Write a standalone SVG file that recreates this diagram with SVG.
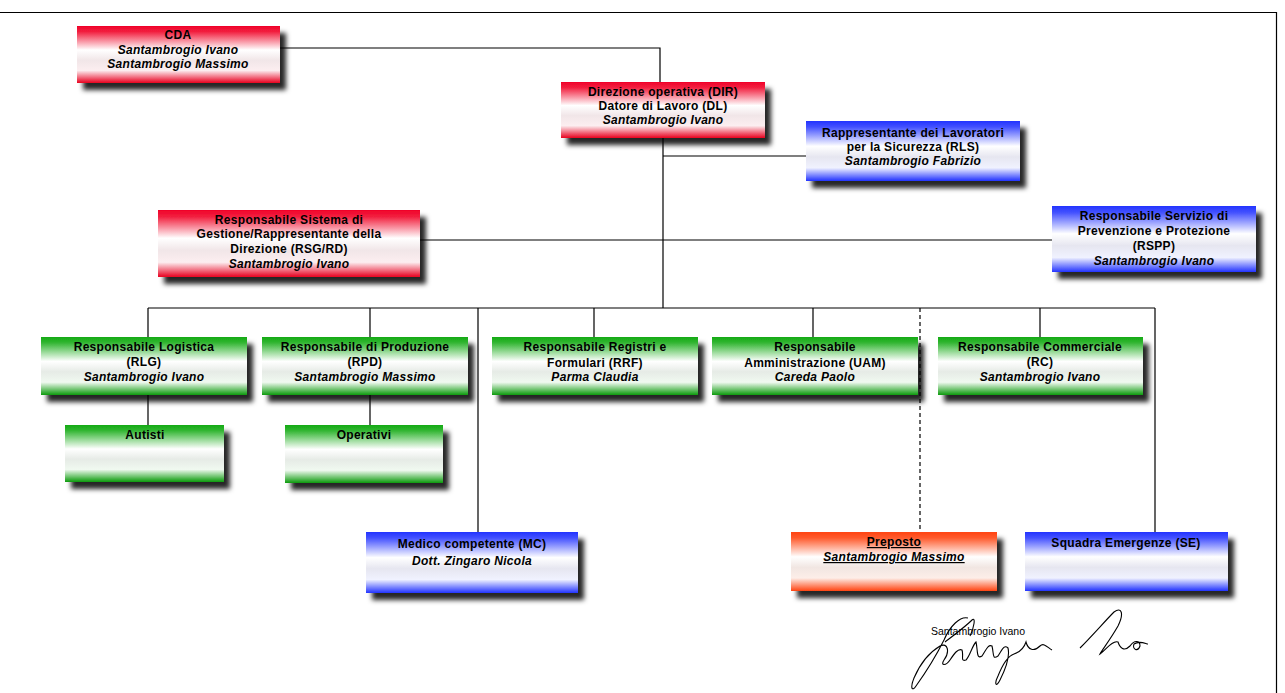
<svg xmlns="http://www.w3.org/2000/svg" width="1285" height="693" viewBox="0 0 1285 693">
<style>
.t{font-family:"Liberation Sans",Arial,sans-serif;font-size:12px;font-weight:bold;letter-spacing:0.3px;text-anchor:middle;fill:#000}
.i{font-style:italic}
.u{text-decoration:underline}
.c{stroke:#000;stroke-width:1.2;fill:none}
.d{stroke-dasharray:4,3}
.box{filter:url(#sh)}
</style>
<defs>
<filter id="sh" x="-10%" y="-20%" width="130%" height="160%">
<feDropShadow dx="6" dy="7" stdDeviation="2.6" flood-color="#000" flood-opacity="0.85"/>
</filter>
<linearGradient id="gR" x1="0" y1="0" x2="0" y2="1">
<stop offset="0" stop-color="#f0002a"/><stop offset="0.1" stop-color="#f2203f"/><stop offset="0.42" stop-color="#fff"/><stop offset="0.6" stop-color="#f1e6e8"/><stop offset="0.78" stop-color="#fceef0"/><stop offset="1" stop-color="#e8001f"/>
</linearGradient>
<linearGradient id="gB" x1="0" y1="0" x2="0" y2="1">
<stop offset="0" stop-color="#2233ff"/><stop offset="0.1" stop-color="#4452ff"/><stop offset="0.42" stop-color="#fff"/><stop offset="0.6" stop-color="#e6e6f0"/><stop offset="0.78" stop-color="#f0f2ff"/><stop offset="1" stop-color="#2233ff"/>
</linearGradient>
<linearGradient id="gG" x1="0" y1="0" x2="0" y2="1">
<stop offset="0" stop-color="#11aa11"/><stop offset="0.1" stop-color="#33b633"/><stop offset="0.42" stop-color="#fff"/><stop offset="0.6" stop-color="#e6ebe6"/><stop offset="0.78" stop-color="#f0f9f0"/><stop offset="1" stop-color="#0a9a0a"/>
</linearGradient>
<linearGradient id="gO" x1="0" y1="0" x2="0" y2="1">
<stop offset="0" stop-color="#ff4411"/><stop offset="0.1" stop-color="#ff5a2c"/><stop offset="0.42" stop-color="#fff"/><stop offset="0.6" stop-color="#f1e6e2"/><stop offset="0.78" stop-color="#fdeee8"/><stop offset="1" stop-color="#ff4411"/>
</linearGradient>
</defs>
<rect width="1285" height="693" fill="#fff"/>
<g id="page-border" class="c">
<path d="M0 12.5H1276.5V693"/>
</g>
<g id="connectors">
<path class="c" d="M280 48H660V82"/>
<path class="c" d="M663 138V308"/>
<path class="c" d="M663 156H806"/>
<path class="c" d="M420 240H1052"/>
<path class="c" d="M148 308H1155"/>
<path class="c" d="M148 308V337M370 308V337M594 308V337M813 308V337M1040 308V337"/>
<path class="c" d="M478 308V532M1155 308V532"/>
<path class="c d" d="M920 308V532"/>
<path class="c" d="M148 395V425M370 395V425"/>
</g>
<g id="cda">
<rect class="box" x="77" y="26" width="203" height="57" fill="url(#gR)"/>
<text class="t" x="178" y="39">CDA</text>
<text class="t i" x="178" y="54">Santambrogio Ivano</text>
<text class="t i" x="178" y="68">Santambrogio Massimo</text>
</g>
<g id="dir">
<rect class="box" x="561" y="82" width="204" height="56" fill="url(#gR)"/>
<text class="t" x="663" y="96">Direzione operativa (DIR)</text>
<text class="t" x="663" y="110">Datore di Lavoro (DL)</text>
<text class="t i" x="663" y="124">Santambrogio Ivano</text>
</g>
<g id="rls">
<rect class="box" x="806" y="121" width="214" height="60" fill="url(#gB)"/>
<text class="t" x="913" y="137">Rappresentante dei Lavoratori</text>
<text class="t" x="913" y="151">per la Sicurezza (RLS)</text>
<text class="t i" x="913" y="165">Santambrogio Fabrizio</text>
</g>
<g id="rsg">
<rect class="box" x="158" y="210" width="262" height="67" fill="url(#gR)"/>
<text class="t" x="289" y="224">Responsabile Sistema di</text>
<text class="t" x="289" y="238">Gestione/Rappresentante della</text>
<text class="t" x="289" y="253">Direzione (RSG/RD)</text>
<text class="t i" x="289" y="268">Santambrogio Ivano</text>
</g>
<g id="rspp">
<rect class="box" x="1052" y="206" width="204" height="66" fill="url(#gB)"/>
<text class="t" x="1154" y="220">Responsabile Servizio di</text>
<text class="t" x="1154" y="235">Prevenzione e Protezione</text>
<text class="t" x="1154" y="250">(RSPP)</text>
<text class="t i" x="1154" y="265">Santambrogio Ivano</text>
</g>
<g id="rlg">
<rect class="box" x="41" y="337" width="206" height="58" fill="url(#gG)"/>
<text class="t" x="144" y="351">Responsabile Logistica</text>
<text class="t" x="144" y="366">(RLG)</text>
<text class="t i" x="144" y="381">Santambrogio Ivano</text>
</g>
<g id="rpd">
<rect class="box" x="262" y="337" width="206" height="58" fill="url(#gG)"/>
<text class="t" x="365" y="351">Responsabile di Produzione</text>
<text class="t" x="365" y="366">(RPD)</text>
<text class="t i" x="365" y="381">Santambrogio Massimo</text>
</g>
<g id="rrf">
<rect class="box" x="492" y="337" width="206" height="58" fill="url(#gG)"/>
<text class="t" x="595" y="351">Responsabile Registri e</text>
<text class="t" x="595" y="367">Formulari (RRF)</text>
<text class="t i" x="595" y="381">Parma Claudia</text>
</g>
<g id="uam">
<rect class="box" x="712" y="337" width="206" height="58" fill="url(#gG)"/>
<text class="t" x="815" y="351">Responsabile</text>
<text class="t" x="815" y="367">Amministrazione (UAM)</text>
<text class="t i" x="815" y="381">Careda Paolo</text>
</g>
<g id="rc">
<rect class="box" x="938" y="337" width="205" height="58" fill="url(#gG)"/>
<text class="t" x="1040" y="351">Responsabile Commerciale</text>
<text class="t" x="1040" y="366">(RC)</text>
<text class="t i" x="1040" y="381">Santambrogio Ivano</text>
</g>
<g id="autisti">
<rect class="box" x="65" y="425" width="159" height="57" fill="url(#gG)"/>
<text class="t" x="145" y="439">Autisti</text>
</g>
<g id="operativi">
<rect class="box" x="285" y="425" width="158" height="58" fill="url(#gG)"/>
<text class="t" x="364" y="439">Operativi</text>
</g>
<g id="mc">
<rect class="box" x="366" y="532" width="212" height="61" fill="url(#gB)"/>
<text class="t" x="472" y="548">Medico competente (MC)</text>
<text class="t i" x="472" y="565">Dott. Zingaro Nicola</text>
</g>
<g id="preposto">
<rect class="box" x="791" y="532" width="206" height="59" fill="url(#gO)"/>
<text class="t u" x="894" y="546">Preposto</text>
<text class="t i u" x="894" y="561">Santambrogio Massimo</text>
</g>
<g id="se">
<rect class="box" x="1025" y="532" width="203" height="59" fill="url(#gB)"/>
<text class="t" x="1126" y="547">Squadra Emergenze (SE)</text>
</g>
<g id="signature">
<text x="931" y="635" font-family="'Liberation Sans',Arial,sans-serif" font-size="10.5" fill="#000">Santambrogio Ivano</text>
<path d="M968 618C960 616 950 626 944 640C936 656 926 672 916 686C912 692 910 688 914 678C920 664 930 652 940 646C948 642 950 652 944 660C940 666 946 666 950 660C954 654 958 648 962 650C964 656 960 662 966 660C970 656 972 646 976 642C978 650 976 660 982 656C986 650 988 644 992 646C994 654 992 660 998 656C1002 650 1004 644 1008 648C1010 656 1006 668 1000 680C996 688 994 684 998 676C1002 666 1008 656 1014 654C1020 652 1024 648 1026 642C1028 650 1034 652 1040 646C1044 642 1048 648 1052 650M945 642C958 632 966 626 972 620C976 616 974 628 970 636M1080 648C1092 636 1106 620 1114 612C1122 606 1124 614 1118 626C1110 640 1102 650 1100 654C1106 650 1112 640 1118 642C1120 648 1124 652 1130 646C1134 640 1140 640 1140 646C1138 652 1132 650 1134 644C1140 640 1146 644 1148 644" fill="none" stroke="#000" stroke-width="1.1"/>
</g>
</svg>
